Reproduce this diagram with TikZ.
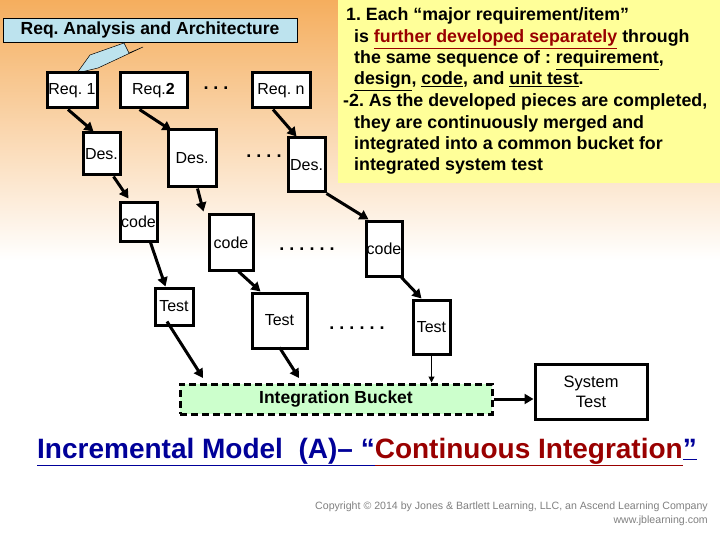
\documentclass[tikz,border=0pt]{standalone}
\usepackage{fontspec}
\setmainfont{Liberation Sans}
\usetikzlibrary{arrows.meta}
\definecolor{bgorange}{HTML}{F5AE5E}
\definecolor{noteyellow}{HTML}{FFFF99}
\definecolor{ttlblue}{HTML}{BDE3EE}
\definecolor{bucketgreen}{HTML}{CCFFCC}
\definecolor{dblue}{HTML}{000099}
\definecolor{dred}{HTML}{990000}
\tikzset{
  box/.style={draw,line width=3pt,fill=white,inner sep=0pt,font=\fontsize{16}{18}\selectfont},
  arr/.style={line width=3pt,-{Triangle[length=9pt,width=10pt]}},
  dots/.style={font=\fontsize{18}{20}\selectfont\bfseries},
  note/.style={anchor=base west,inner sep=0pt,font=\fontsize{17.8}{20}\selectfont\bfseries}
}
\newcommand{\mybox}[6]{\node[box,minimum width=#4-#2,minimum height=#5-#3] (#1) at ({(#2+#4)/2},{(#3+#5)/2}) {#6};}
\begin{document}
\frenchspacing
\begin{tikzpicture}[x=1pt,y=-1pt]
\useasboundingbox (0,0) rectangle (720,540);
\shade[top color=bgorange,bottom color=white] (0,0) rectangle (720,260);
\fill[white] (0,260) rectangle (720,540);
\fill[noteyellow] (338,0) rectangle (720,183);
% title box
\node[draw,line width=0.8pt,fill=ttlblue,minimum width=294pt,minimum height=24pt,inner sep=0pt,font=\fontsize{17.5}{19}\selectfont\bfseries] (ttl) at (150,30) {Req. Analysis and Architecture};
\filldraw[fill=ttlblue,draw=black,line width=0.5pt] (77,73) -- (90,55) -- (124,43) -- (129,53) -- (143,47) -- (98,68) -- cycle;
% boxes
\mybox{r1}{47}{73}{97}{108}{Req. 1}
\mybox{r2}{120}{73}{187}{108}{Req.\textbf{2}}
\mybox{rn}{252}{73}{310}{108}{Req. n}
\mybox{d1}{83}{133}{120}{175}{Des.}
\mybox{d2}{168}{130}{216}{187}{Des.}
\mybox{dn}{288}{138}{325}{192}{Des.}
\mybox{c1}{120}{203}{157}{241}{code}
\mybox{c2}{209}{215}{253}{270}{code}
\mybox{cn}{366}{222}{402}{276}{code}
\mybox{t1}{155}{288}{193}{325}{Test}
\mybox{t2}{252}{293}{307}{348}{Test}
\mybox{tn}{413}{300}{450}{354}{Test}
\node[dots] (e1) at (216,88) {. . .};
\node[dots] (e2) at (264,156) {. . . .};
\node[dots] (e3) at (307,249) {. . . . . .};
\node[dots] (e4) at (357,328) {. . . . . .};
% bucket
\node[draw,dashed,dash pattern=on 7pt off 4pt,line width=3pt,fill=bucketgreen,minimum width=312pt,minimum height=30pt,inner sep=0pt,font=\fontsize{17.5}{20}\selectfont\bfseries] (bk) at (336,399) {Integration Bucket};
\node[box,minimum width=112pt,minimum height=55pt,align=center,font=\fontsize{16.5}{20}\selectfont] (st) at (591,392) {System\\Test};
% arrows
\draw[arr] ([xshift=-4pt]r1.south) -- ([xshift=12pt]d1.north west);
\draw[arr] ([xshift=-14pt]r2.south) -- ([xshift=5pt,yshift=-2pt]d2.north west);
\draw[arr] ([xshift=-8pt]rn.south) -- ([xshift=10pt]dn.north west);
\draw[arr] ([xshift=-8pt]d1.south east) -- ([xshift=10pt,yshift=3pt]c1.north west);
\draw[arr] ([xshift=-20pt]d2.south east) -- ([xshift=-4pt,yshift=2pt]c2.north west);
\draw[arr] (dn.south east) -- ([xshift=4pt,yshift=1pt]cn.north west);
\draw[arr] ([xshift=-8pt]c1.south east) -- ([xshift=12pt]t1.north west);
\draw[arr] ([xshift=-16pt]c2.south east) -- ([xshift=10pt]t2.north west);
\draw[arr] ([xshift=-2pt]cn.south east) -- ([xshift=10pt]tn.north west);
\coordinate (b1) at (203,378);
\coordinate (b2) at (299,378);
\draw[arr] ([xshift=-7pt,yshift=5pt]t1.south) -- (b1);
\draw[arr] ([yshift=2pt]t2.south) -- (b2);
\draw[-{Triangle[length=6pt,width=6pt]},line width=1pt] (tn.south) -- (tn.south |- bk.north);
\draw[arr] (bk.east) -- (st.west |- bk.east);
% note text
\node[note] (n1) at (346,21) {1. Each “major requirement/item”};
\node[note] (n2) at (354,43) {is \textcolor{dred}{\underline{further developed separately}} through};
\node[note] (n3) at (354,64) {the same sequence of : \underline{requirement},};
\node[note] (n4) at (354,85) {\underline{design}, \underline{code}, and \underline{unit test}.};
\node[note] (n5) at (343,107) {-2. As the developed pieces are completed,};
\node[note] (n6) at (354,129) {they are continuously merged and};
\node[note] (n7) at (354,150) {integrated into a common bucket for};
\node[note] (n8) at (354,171) {integrated system test};
% bottom title
\node[anchor=base west,inner sep=0pt,font=\fontsize{28}{31}\selectfont\bfseries] (bt) at (37,458) {\textcolor{dblue}{\underline{Incremental Model\ \ (A)– “}}\textcolor{dred}{\underline{Continuous Integration}}\textcolor{dblue}{\underline{”}}};
\node[anchor=base east,inner sep=0pt,font=\fontsize{10.6}{12}\selectfont,text=gray,align=right] (cp) at (708,509) {Copyright © 2014 by Jones \& Bartlett Learning, LLC, an Ascend Learning Company};
\node[anchor=base east,inner sep=0pt,font=\fontsize{10.6}{12}\selectfont,text=gray] (www) at (708,523) {www.jblearning.com};
\end{tikzpicture}
\end{document}
